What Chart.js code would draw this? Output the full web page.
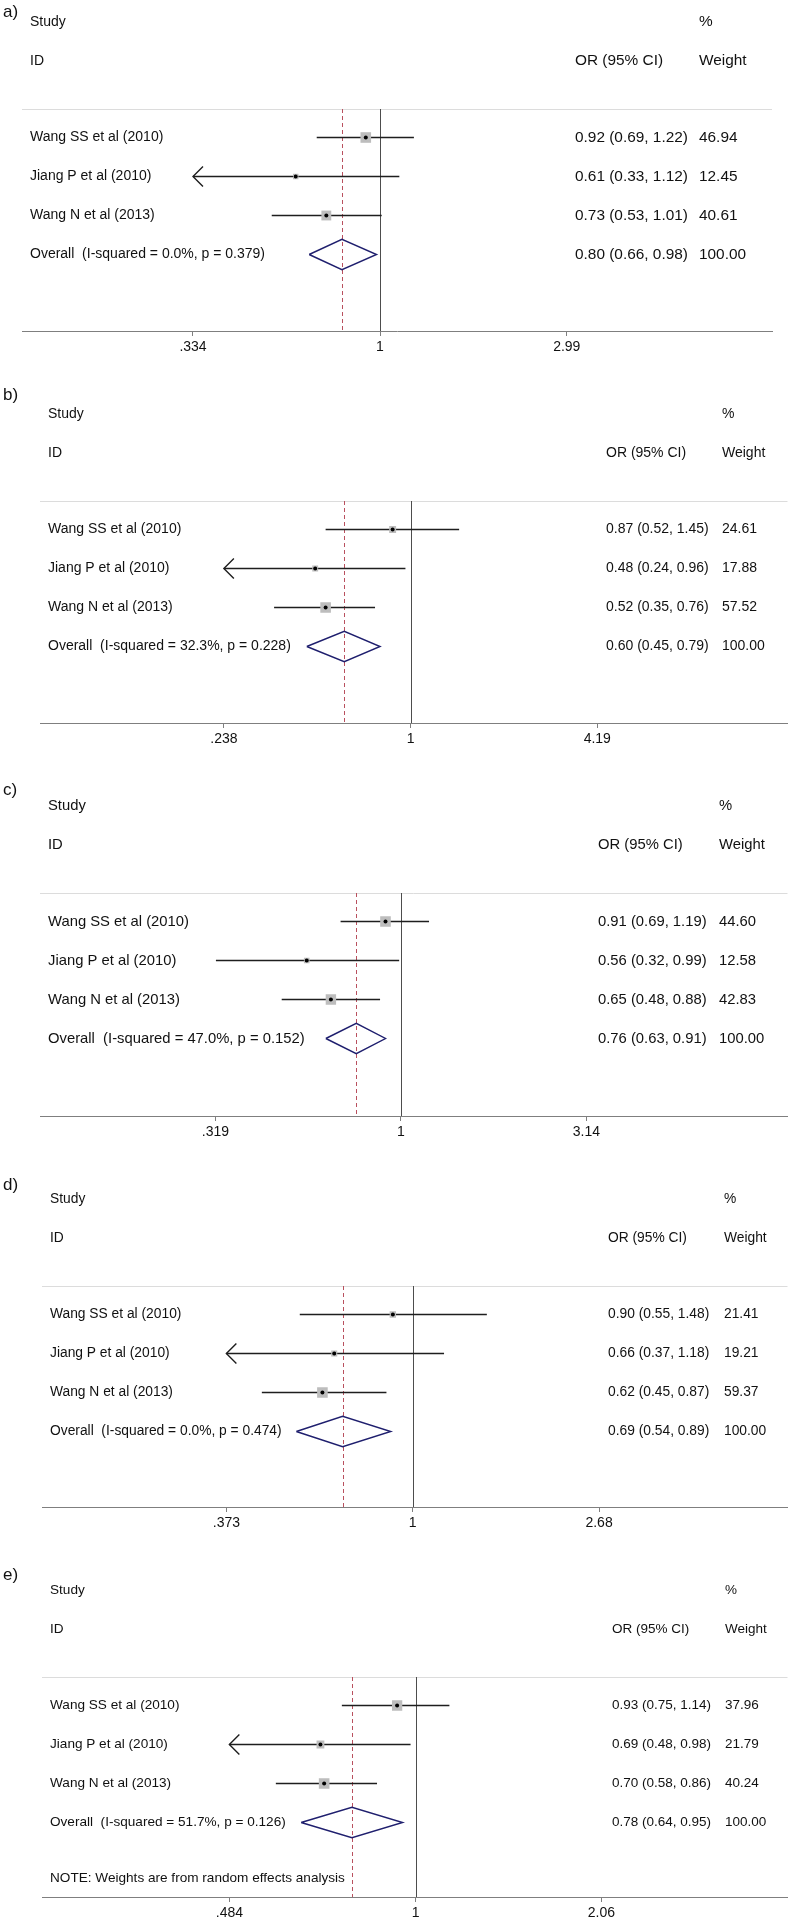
<!DOCTYPE html>
<html>
<head>
<meta charset="utf-8">
<script src="https://cdn.jsdelivr.net/npm/chart.js@4.4.1/dist/chart.umd.min.js"></script>
<style>
    html, body { margin: 0; padding: 0; background: #fff; width: 795px; height: 1920px; overflow: hidden; }
    .panel { position: absolute; left: 0; width: 795px; }
    .panel canvas { display: block; }
</style>
</head>
<body>
<script>
// datos de los 5 forest plots
var panelLetters = ['a)', 'b)', 'c)', 'd)', 'e)'];
var studies = ['Wang SS et al (2010)', 'Jiang P et al (2010)', 'Wang N et al (2013)'];
var orEst = [[0.92, 0.61, 0.73], [0.87, 0.48, 0.52], [0.91, 0.56, 0.65], [0.90, 0.66, 0.62], [0.93, 0.69, 0.70]];
var orLow = [[0.69, 0.33, 0.53], [0.52, 0.24, 0.35], [0.69, 0.32, 0.48], [0.55, 0.37, 0.45], [0.75, 0.48, 0.58]];
var orHigh = [[1.22, 1.12, 1.01], [1.45, 0.96, 0.76], [1.19, 0.99, 0.88], [1.48, 1.18, 0.87], [1.14, 0.98, 0.86]];
// IC inferior que cae fuera del eje (flecha)
var lowOffAxis = [[false, true, false], [false, true, false], [false, false, false], [false, true, false], [false, true, false]];
var weights = [[46.94, 12.45, 40.61], [24.61, 17.88, 57.52], [44.60, 12.58, 42.83], [21.41, 19.21, 59.37], [37.96, 21.79, 40.24]];
var overallEst = [0.80, 0.60, 0.76, 0.69, 0.78];
var overallLow = [0.66, 0.45, 0.63, 0.54, 0.64];
var overallHigh = [0.98, 0.79, 0.91, 0.89, 0.95];
var iSquared = ['0.0%', '32.3%', '47.0%', '0.0%', '51.7%'];
var pHet = ['0.379', '0.228', '0.152', '0.474', '0.126'];
var tickVals = [[0.334, 1, 2.99], [0.238, 1, 4.19], [0.319, 1, 3.14], [0.373, 1, 2.68], [0.484, 1, 2.06]];
var tickLabels = [['.334', '1', '2.99'], ['.238', '1', '4.19'], ['.319', '1', '3.14'], ['.373', '1', '2.68'], ['.484', '1', '2.06']];
var noteText = ['', '', '', '', 'NOTE: Weights are from random effects analysis'];

// layout (pixeles)
var panelTop = [0, 378, 772, 1167, 1558];
var labelY = [12, 395, 790, 1185, 1575];
var areaLeft = [22, 40, 40, 42, 42];
var areaRight = [772, 788, 790, 790, 790];
var sepY = [109, 501, 893, 1286, 1677];
var axisY = [331, 723, 1116, 1507, 1897];
var tickLowX = [193, 224, 216, 227, 230];
var oneX = [380, 411, 402, 414, 417];
var orColX = [575, 606, 598, 608, 612];
var wtColX = [699, 722, 719, 724, 725];
var leftFont = [14, 14, 14.8, 13.8, 13.6];
var rightFont = [15.4, 14, 14.8, 13.8, 13.5];

(function () {
    var FONT = '"Liberation Sans", Arial, Helvetica, sans-serif';
    var ROW_PX = 39;
    var ROW0_PX = 28.5;
    var AXIS_H = 24;
    var BOX_MAX = 10.6;
    var DIAMOND_H = 0.39;
    var HEAD_STUDY = -1.96;
    var HEAD_ID = -0.96;
    var NOTE_ROW = 5.44;

    for (var p = 0; p < panelLetters.length; p++) {
        crearPanel(p);
    }

    function fmt(v) { return v.toFixed(2); }

    function crearPanel(p) {
        var top = panelTop[p];
        var h = axisY[p] - top + AXIS_H;

        var div = document.createElement('div');
        div.className = 'panel';
        div.style.top = top + 'px';
        div.style.height = h + 'px';
        var canvas = document.createElement('canvas');
        canvas.width = 795;
        canvas.height = h;
        canvas.style.width = '795px';
        canvas.style.height = h + 'px';
        div.appendChild(canvas);
        document.body.appendChild(div);

        var ticks = tickVals[p];
        var k = (oneX[p] - tickLowX[p]) / Math.log(1 / ticks[0]);
        var xMin = Math.exp((areaLeft[p] - oneX[p]) / k);
        var xMax = Math.exp((areaRight[p] - oneX[p]) / k);
        var yMin = 1 - ROW0_PX / ROW_PX;
        var yMax = yMin + (axisY[p] - sepY[p]) / ROW_PX;
        var tMin = ticks[0];
        var tMax = ticks[ticks.length - 1];
        var wMax = Math.max.apply(null, weights[p]);
        var overallRow = studies.length + 1;

        var datasets = [];
        studies.forEach(function (name, i) {
            var lo = lowOffAxis[p][i] ? tMin : Math.max(orLow[p][i], tMin);
            datasets.push({
                data: [
                    { x: lo, y: i + 1 },
                    { x: Math.min(orHigh[p][i], tMax), y: i + 1 }
                ],
                showLine: true,
                borderColor: '#1e1e1e',
                borderWidth: 1.4,
                pointRadius: 0,
                pointHoverRadius: 0,
                order: 3
            });
        });

        datasets.push({
            data: orEst[p].map(function (v, i) { return { x: v, y: i + 1 }; }),
            pointStyle: 'rect',
            pointRadius: weights[p].map(function (w) { return BOX_MAX * Math.sqrt(w / wMax) / Math.SQRT2; }),
            backgroundColor: '#bdbdbd',
            borderWidth: 0,
            order: 2
        });

        datasets.push({
            data: orEst[p].map(function (v, i) { return { x: v, y: i + 1 }; }),
            pointStyle: 'circle',
            pointRadius: 2,
            backgroundColor: '#000',
            borderWidth: 0,
            order: 1
        });

        datasets.push({
            data: [
                { x: overallLow[p], y: overallRow },
                { x: overallEst[p], y: overallRow - DIAMOND_H },
                { x: overallHigh[p], y: overallRow },
                { x: overallEst[p], y: overallRow + DIAMOND_H },
                { x: overallLow[p], y: overallRow }
            ],
            showLine: true,
            borderColor: '#1f1f6e',
            borderWidth: 1.4,
            borderJoinStyle: 'miter',
            pointRadius: 0,
            pointHoverRadius: 0,
            fill: false,
            tension: 0,
            order: 1
        });

        var decor = {
            id: 'forestDecor' + p,
            beforeDatasetsDraw: function (chart) {
                var ctx = chart.ctx;
                var a = chart.chartArea;
                var xs = chart.scales.x;
                ctx.save();
                ctx.lineWidth = 1;
                ctx.strokeStyle = '#dcdcdc';
                ctx.beginPath();
                ctx.moveTo(a.left, Math.round(a.top) + 0.5);
                ctx.lineTo(a.right, Math.round(a.top) + 0.5);
                ctx.stroke();

                var x1 = Math.round(xs.getPixelForValue(1)) + 0.5;
                ctx.strokeStyle = '#4d4d4d';
                ctx.beginPath();
                ctx.moveTo(x1, a.top);
                ctx.lineTo(x1, a.bottom);
                ctx.stroke();

                var xo = Math.round(xs.getPixelForValue(overallEst[p])) + 0.5;
                ctx.strokeStyle = '#b9505e';
                ctx.setLineDash([4, 3]);
                ctx.beginPath();
                ctx.moveTo(xo, a.top);
                ctx.lineTo(xo, a.bottom);
                ctx.stroke();
                ctx.restore();
            },
            afterDatasetsDraw: function (chart) {
                var ctx = chart.ctx;
                var xs = chart.scales.x;
                var ys = chart.scales.y;
                ctx.save();
                ctx.strokeStyle = '#1e1e1e';
                ctx.lineWidth = 1.4;
                studies.forEach(function (name, i) {
                    var y = ys.getPixelForValue(i + 1);
                    if (lowOffAxis[p][i] || orLow[p][i] < tMin) {
                        var tip = xs.getPixelForValue(tMin);
                        ctx.beginPath();
                        ctx.moveTo(tip + 10, y - 10);
                        ctx.lineTo(tip, y);
                        ctx.lineTo(tip + 10, y + 10);
                        ctx.stroke();
                    }
                    if (orHigh[p][i] > tMax) {
                        var tipR = xs.getPixelForValue(tMax);
                        ctx.beginPath();
                        ctx.moveTo(tipR - 10, y - 10);
                        ctx.lineTo(tipR, y);
                        ctx.lineTo(tipR - 10, y + 10);
                        ctx.stroke();
                    }
                });
                ctx.restore();
            },
            afterDraw: function (chart) {
                var ctx = chart.ctx;
                var a = chart.chartArea;
                var ys = chart.scales.y;
                var xName = a.left + 8;
                ctx.save();
                ctx.fillStyle = '#111';
                ctx.textBaseline = 'middle';
                ctx.textAlign = 'left';

                ctx.font = '17px ' + FONT;
                ctx.fillText(panelLetters[p], 3, labelY[p] - top);

                var fl = leftFont[p] + 'px ' + FONT;
                var fr = rightFont[p] + 'px ' + FONT;
                var yStudy = ys.getPixelForValue(HEAD_STUDY);
                var yId = ys.getPixelForValue(HEAD_ID);

                ctx.font = fl;
                ctx.fillText('Study', xName, yStudy);
                ctx.fillText('ID', xName, yId);
                ctx.font = fr;
                ctx.fillText('%', wtColX[p], yStudy);
                ctx.fillText('OR (95% CI)', orColX[p], yId);
                ctx.fillText('Weight', wtColX[p], yId);

                studies.forEach(function (name, i) {
                    var y = ys.getPixelForValue(i + 1);
                    ctx.font = fl;
                    ctx.fillText(name, xName, y);
                    ctx.font = fr;
                    ctx.fillText(fmt(orEst[p][i]) + ' (' + fmt(orLow[p][i]) + ', ' + fmt(orHigh[p][i]) + ')', orColX[p], y);
                    ctx.fillText(fmt(weights[p][i]), wtColX[p], y);
                });

                var yo = ys.getPixelForValue(overallRow);
                ctx.font = fl;
                ctx.fillText('Overall  (I-squared = ' + iSquared[p] + ', p = ' + pHet[p] + ')', xName, yo);
                ctx.font = fr;
                ctx.fillText(fmt(overallEst[p]) + ' (' + fmt(overallLow[p]) + ', ' + fmt(overallHigh[p]) + ')', orColX[p], yo);
                var total = weights[p].reduce(function (s, w) { return s + w; }, 0);
                ctx.fillText(fmt(Math.round(total)), wtColX[p], yo);

                if (noteText[p]) {
                    ctx.font = fl;
                    ctx.fillText(noteText[p], xName, ys.getPixelForValue(NOTE_ROW));
                }
                ctx.restore();
            }
        };

        new Chart(canvas, {
            type: 'scatter',
            data: { datasets: datasets },
            options: {
                responsive: false,
                animation: false,
                events: [],
                layout: {
                    padding: {
                        left: areaLeft[p],
                        right: 795 - areaRight[p],
                        top: sepY[p] - top,
                        bottom: 0
                    }
                },
                plugins: {
                    legend: { display: false },
                    tooltip: { enabled: false }
                },
                scales: {
                    x: {
                        type: 'logarithmic',
                        min: xMin,
                        max: xMax,
                        position: 'bottom',
                        border: { display: true, color: '#7f7f7f', width: 1 },
                        grid: { display: true, drawOnChartArea: false, drawTicks: true, tickLength: 5, color: '#7f7f7f' },
                        afterBuildTicks: function (axis) {
                            axis.ticks = ticks.map(function (v) { return { value: v }; });
                        },
                        afterFit: function (axis) {
                            axis.height = AXIS_H;
                        },
                        ticks: {
                            autoSkip: false,
                            maxRotation: 0,
                            padding: 3,
                            color: '#111',
                            font: { family: FONT, size: 14 },
                            callback: function (value, index) {
                                return tickLabels[p][index];
                            }
                        }
                    },
                    y: {
                        type: 'linear',
                        display: false,
                        reverse: true,
                        min: yMin,
                        max: yMax
                    }
                }
            },
            plugins: [decor]
        });
    }
})();
</script>
</body>
</html>
